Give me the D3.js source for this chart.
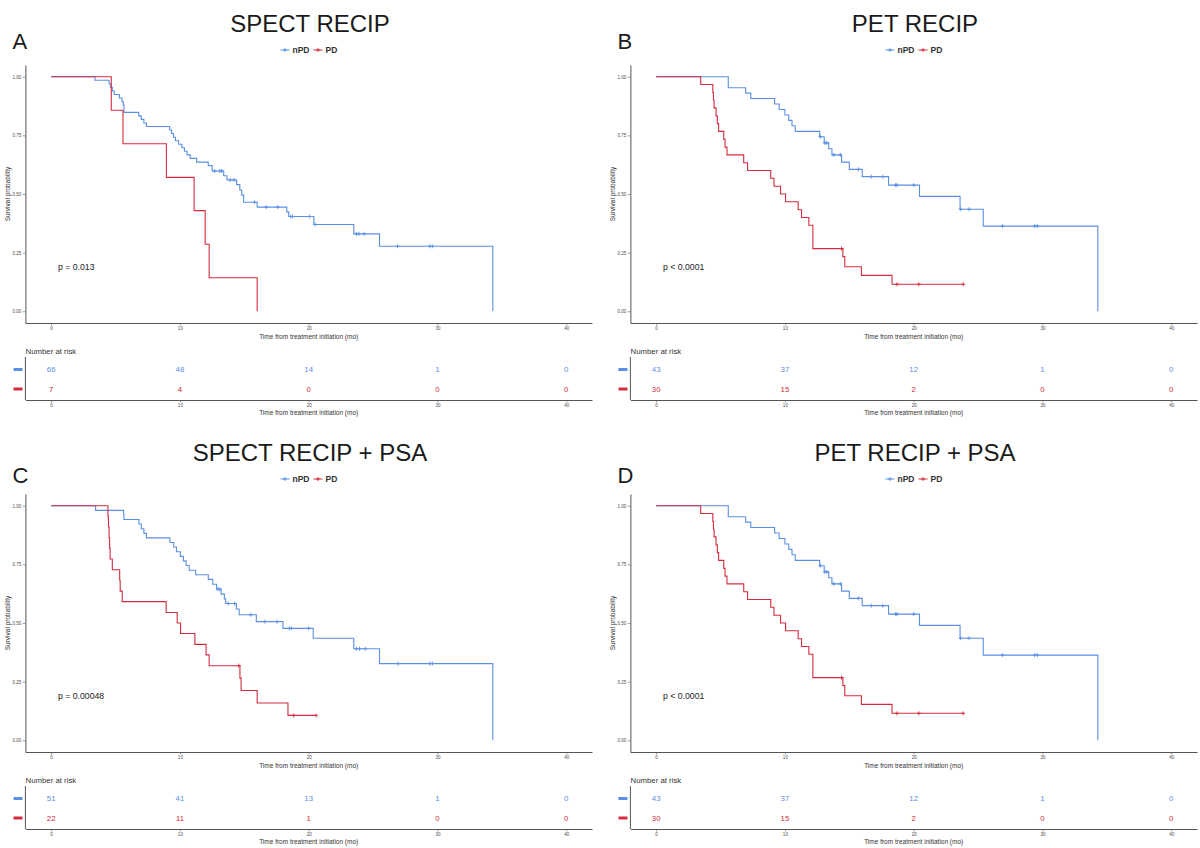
<!DOCTYPE html>
<html>
<head>
<meta charset="utf-8">
<script src="https://cdn.jsdelivr.net/npm/d3@7/dist/d3.min.js"></script>
<style>
  body { margin: 0; background: #fff; }
  text { font-family: "Liberation Sans", Arial, Helvetica, sans-serif; }
</style>
</head>
<body>
<script>
/*jshint esversion: 6 */

// ---------- data ----------
const groups = ["nPD", "PD"];
const panelLetters = ["A", "B", "C", "D"];
const panelTitles = ["SPECT RECIP", "PET RECIP", "SPECT RECIP + PSA", "PET RECIP + PSA"];
const pValues = ["p = 0.013", "p < 0.0001", "p = 0.00048", "p < 0.0001"];
const xTicks = [0, 10, 20, 30, 40];
const yTicks = [0, 0.25, 0.5, 0.75, 1];

// A: SPECT RECIP
const aNpdTime = [3.4, 4.5, 4.6, 4.75, 4.9, 5.3, 5.5, 5.6, 5.65, 6.8, 7.0, 7.2, 7.4, 9.2, 9.35, 9.5, 9.65, 9.9, 10.15, 10.35, 10.55, 10.8, 11.3, 12.2, 12.5, 13.4, 13.65, 14.4, 14.65, 14.8, 14.95, 16.0, 18.3, 18.45, 20.4, 23.5, 25.5, 34.3];
const aNpdSurv = [0.985, 0.970, 0.955, 0.939, 0.924, 0.909, 0.894, 0.879, 0.848, 0.833, 0.818, 0.803, 0.788, 0.773, 0.758, 0.742, 0.727, 0.712, 0.697, 0.682, 0.667, 0.652, 0.636, 0.621, 0.598, 0.578, 0.560, 0.540, 0.517, 0.495, 0.465, 0.444, 0.424, 0.404, 0.370, 0.330, 0.277, 0];
const aNpdCens = [12.7, 13.1, 13.25, 13.9, 14.2, 15.8, 16.7, 17.6, 18.6, 18.75, 20.05, 20.5, 23.7, 23.9, 24.3, 26.9, 29.4, 29.6];
const aPdTime = [4.67, 5.58, 8.95, 11.1, 11.96, 12.27, 16.0];
const aPdSurv = [0.857, 0.714, 0.571, 0.429, 0.286, 0.143, 0];
const aPdCens = [];
const aRiskNpd = [66, 48, 14, 1, 0];
const aRiskPd = [7, 4, 0, 0, 0];

// B: PET RECIP
const bNpdTime = [5.6, 6.95, 7.35, 9.2, 9.55, 10.0, 10.3, 10.55, 10.8, 12.7, 13.05, 13.4, 13.65, 14.4, 15.0, 16.0, 18.05, 20.45, 23.6, 25.4, 34.3];
const bNpdSurv = [0.953, 0.930, 0.907, 0.884, 0.860, 0.837, 0.814, 0.791, 0.767, 0.744, 0.718, 0.693, 0.667, 0.636, 0.605, 0.574, 0.538, 0.490, 0.435, 0.363, 0];
const bNpdCens = [12.75, 13.1, 13.25, 13.8, 14.3, 15.7, 16.7, 17.6, 18.6, 18.7, 20.0, 23.65, 24.3, 26.9, 29.4, 29.6];
const bPdTime = [3.46, 4.4, 4.45, 4.5, 4.65, 4.75, 4.85, 5.25, 5.35, 5.5, 6.8, 7.1, 8.9, 9.15, 9.66, 10.05, 11.03, 11.29, 11.86, 12.17, 14.5, 14.65, 15.94, 18.32];
const bPdSurv = [0.967, 0.933, 0.900, 0.867, 0.833, 0.800, 0.767, 0.733, 0.700, 0.667, 0.633, 0.600, 0.567, 0.533, 0.500, 0.467, 0.433, 0.400, 0.367, 0.267, 0.233, 0.190, 0.153, 0.115];
const bPdCens = [14.4, 18.7, 20.4, 23.85];
const bRiskNpd = [43, 37, 12, 1, 0];
const bRiskPd = [30, 15, 2, 0, 0];

// C: SPECT RECIP + PSA
const cNpdTime = [3.45, 5.63, 5.65, 6.82, 7.0, 7.2, 7.4, 9.22, 9.52, 9.73, 10.03, 10.27, 10.48, 10.72, 11.22, 12.2, 12.55, 12.85, 13.2, 13.45, 13.55, 14.38, 14.6, 15.93, 18.0, 20.35, 23.5, 25.5, 34.3];
const cNpdSurv = [0.980, 0.961, 0.941, 0.922, 0.902, 0.882, 0.863, 0.843, 0.824, 0.804, 0.784, 0.765, 0.745, 0.725, 0.706, 0.686, 0.665, 0.644, 0.623, 0.603, 0.583, 0.560, 0.535, 0.506, 0.477, 0.435, 0.390, 0.327, 0];
const cNpdCens = [12.95, 13.1, 13.75, 14.25, 15.5, 16.6, 17.55, 18.5, 18.65, 20.0, 23.7, 23.95, 24.4, 26.95, 29.4, 29.6];
const cPdTime = [4.41, 4.45, 4.5, 4.54, 4.58, 4.75, 5.32, 5.36, 5.52, 8.93, 9.79, 10.05, 11.16, 12.03, 12.27, 14.66, 14.75, 16.0, 18.39];
const cPdSurv = [0.955, 0.909, 0.864, 0.818, 0.773, 0.727, 0.682, 0.636, 0.591, 0.545, 0.500, 0.455, 0.409, 0.364, 0.318, 0.265, 0.212, 0.159, 0.106];
const cPdCens = [14.57, 18.84, 20.57];
const cRiskNpd = [51, 41, 13, 1, 0];
const cRiskPd = [22, 11, 1, 0, 0];

// D: PET RECIP + PSA (same curves as B in the figure)
const dNpdTime = bNpdTime, dNpdSurv = bNpdSurv, dNpdCens = bNpdCens;
const dPdTime = bPdTime, dPdSurv = bPdSurv, dPdCens = bPdCens;
const dRiskNpd = [43, 37, 12, 1, 0];
const dRiskPd = [30, 15, 2, 0, 0];

const colors = { nPD: "#5b8fe3", PD: "#d22c3e" };

// ---------- drawing ----------
class KMPanel {
  constructor(svg, x, y, letterDy) {
    this.g = svg.append("g").attr("transform", "translate(" + x + "," + y + ")");
    this.letterDy = letterDy;
    this.left = 25.4;
    this.right = 592;
    this.top = 65;
    this.bottom = 323;
    this.xScale = d3.scaleLinear().domain([-2, 42]).range([this.left, this.right]);
    this.yScale = d3.scaleLinear().domain([-0.05, 1.05]).range([this.bottom, this.top]);
    // risk table rows
    this.rowScale = d3.scalePoint().domain(groups).range([369.5, 389]);
    this.tableTop = 357;
    this.tableBottom = 400;
  }

  header(letter, title) {
    this.g.append("text").attr("x", 12.5).attr("y", 48.5 + this.letterDy)
      .style("font-size", "22px").attr("fill", "#1a1a1a").text(letter);
    this.g.append("text").attr("x", 310).attr("y", 31.5).attr("text-anchor", "middle")
      .style("font-size", "24px").attr("fill", "#1a1a1a").text(title);

    // legend
    var that = this;
    var items = [{ k: "nPD", x0: 280.5, tx: 292.5 }, { k: "PD", x0: 313.5, tx: 325.5 }];
    items.forEach(function (it) {
      that.g.append("line").attr("x1", it.x0).attr("x2", it.x0 + 9).attr("y1", 50).attr("y2", 50)
        .attr("stroke", colors[it.k]).attr("stroke-width", 1);
      that.g.append("path").attr("d", "M" + (it.x0 + 2.5) + ",50h4M" + (it.x0 + 4.5) + ",48v4")
        .attr("stroke", colors[it.k]).attr("stroke-width", 0.9);
      that.g.append("text").attr("x", it.tx).attr("y", 53).style("font-size", "8.5px")
        .style("font-weight", "bold").attr("fill", "#333").text(it.k);
    });
  }

  axes() {
    var yAxis = d3.axisLeft(this.yScale).tickValues(yTicks).tickFormat(d3.format(".2f"))
      .tickSize(2.5).tickSizeOuter(0).tickPadding(1.5);
    var xAxis = d3.axisBottom(this.xScale).tickValues(xTicks).tickSize(2.5).tickSizeOuter(0).tickPadding(1.5);

    var yg = this.g.append("g").attr("transform", "translate(" + this.left + ",0)").call(yAxis);
    var xg = this.g.append("g").attr("transform", "translate(0," + this.bottom + ")").call(xAxis);
    [yg, xg].forEach(function (ag) {
      ag.select(".domain").attr("stroke", "#555").attr("stroke-width", 1);
      ag.selectAll(".tick line").attr("stroke", "#555").attr("stroke-width", 0.6);
      ag.selectAll(".tick text").attr("fill", "#4d4d4d").style("font-size", "4.6px")
        .style("font-family", "'Liberation Sans', Arial, sans-serif");
    });

    this.g.append("text").attr("transform", "translate(10," + ((this.top + this.bottom) / 2) + ") rotate(-90)")
      .attr("text-anchor", "middle").style("font-size", "6.5px").attr("fill", "#333").text("Survival probability");
    this.g.append("text").attr("x", (this.left + this.right) / 2).attr("y", 338.5).attr("text-anchor", "middle")
      .style("font-size", "6.5px").attr("fill", "#333").text("Time from treatment initiation (mo)");
  }

  curve(times, surv, cens, color) {
    var that = this;
    var pts = [[0, 1]].concat(times.map(function (t, i) { return [t, surv[i]]; }));
    var lastC = cens.length ? d3.max(cens) : 0;
    if (lastC > times[times.length - 1]) pts.push([lastC, surv[surv.length - 1]]);

    var line = d3.line().curve(d3.curveStepAfter)
      .x(function (d) { return that.xScale(d[0]); })
      .y(function (d) { return that.yScale(d[1]); });

    this.g.append("path").datum(pts).attr("d", line)
      .attr("fill", "none").attr("stroke", color).attr("stroke-width", 1.1);

    // censor marks
    this.g.append("g").selectAll("path").data(cens).enter().append("path")
      .attr("d", function (t) {
        var i = d3.bisectRight(times, t) - 1;
        var s = i < 0 ? 1 : surv[i];
        var cx = that.xScale(t), cy = that.yScale(s);
        return "M" + (cx - 2) + "," + cy + "h4M" + cx + "," + (cy - 2) + "v4";
      })
      .attr("stroke", color).attr("stroke-width", 0.9);
  }

  pvalue(p) {
    this.g.append("text").attr("x", 58).attr("y", 269.5).style("font-size", "8.7px")
      .attr("fill", "#222").text(p);
  }

  riskTable(riskNpd, riskPd) {
    var that = this;
    var risk = { nPD: riskNpd, PD: riskPd };

    this.g.append("text").attr("x", 25.5).attr("y", 354).style("font-size", "7.8px")
      .attr("fill", "#333").text("Number at risk");

    groups.forEach(function (k) {
      var ry = that.rowScale(k);
      that.g.append("rect").attr("x", 13.5).attr("y", ry - 1.5).attr("width", 9).attr("height", 3)
        .attr("fill", colors[k]);
      that.g.append("g").selectAll("text").data(risk[k]).enter().append("text")
        .attr("x", function (d, i) { return that.xScale(xTicks[i]); })
        .attr("y", ry).attr("dy", "0.35em").attr("text-anchor", "middle")
        .style("font-size", "7.8px").attr("fill", colors[k])
        .text(function (d) { return d; });
    });

    this.g.append("line").attr("x1", this.left).attr("x2", this.left)
      .attr("y1", this.tableTop).attr("y2", this.tableBottom).attr("stroke", "#555").attr("stroke-width", 1);

    var xAxis = d3.axisBottom(this.xScale).tickValues(xTicks).tickSize(2.5).tickSizeOuter(0).tickPadding(1.5);
    var xg = this.g.append("g").attr("transform", "translate(0," + this.tableBottom + ")").call(xAxis);
    xg.select(".domain").attr("stroke", "#555").attr("stroke-width", 1);
    xg.selectAll(".tick line").attr("stroke", "#555").attr("stroke-width", 0.6);
    xg.selectAll(".tick text").attr("fill", "#4d4d4d").style("font-size", "4.6px")
      .style("font-family", "'Liberation Sans', Arial, sans-serif");

    this.g.append("text").attr("x", (this.left + this.right) / 2).attr("y", 414.5).attr("text-anchor", "middle")
      .style("font-size", "6.5px").attr("fill", "#333").text("Time from treatment initiation (mo)");
  }
}

var svg = d3.select("body").append("svg").attr("width", 1200).attr("height", 848)
  .style("background", "#fff");

var panelData = [
  [aNpdTime, aNpdSurv, aNpdCens, aPdTime, aPdSurv, aPdCens, aRiskNpd, aRiskPd],
  [bNpdTime, bNpdSurv, bNpdCens, bPdTime, bPdSurv, bPdCens, bRiskNpd, bRiskPd],
  [cNpdTime, cNpdSurv, cNpdCens, cPdTime, cPdSurv, cPdCens, cRiskNpd, cRiskPd],
  [dNpdTime, dNpdSurv, dNpdCens, dPdTime, dPdSurv, dPdCens, dRiskNpd, dRiskPd]
];
var offX = [0, 605, 0, 605];
var offY = [0, 0, 429, 429];
var letterDy = [0, 0, 5, 5];

panelData.forEach(function (d, i) {
  var p = new KMPanel(svg, offX[i], offY[i], letterDy[i]);
  p.header(panelLetters[i], panelTitles[i]);
  p.axes();
  p.curve(d[0], d[1], d[2], colors.nPD);
  p.curve(d[3], d[4], d[5], colors.PD);
  p.pvalue(pValues[i]);
  p.riskTable(d[6], d[7]);
});
</script>
</body>
</html>
